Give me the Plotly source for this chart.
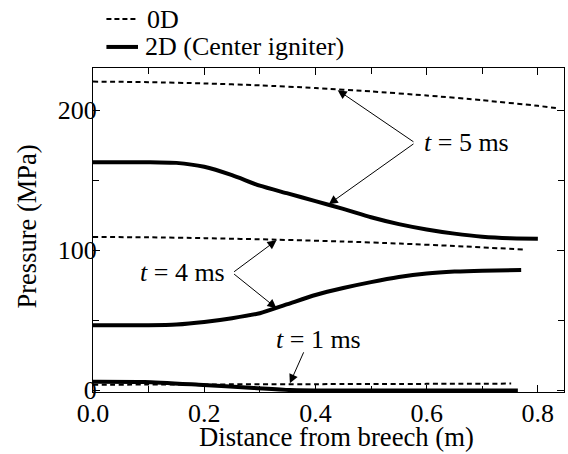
import plotly.graph_objects as go

# ---- data ----
x_0d_t5 = [0, 0.1, 0.2, 0.3, 0.4, 0.5, 0.6, 0.7, 0.8, 0.837]
p_0d_t5 = [220.3, 219.9, 219.0, 217.6, 215.7, 213.3, 210.4, 207.0, 203.0, 201.2]

x_2d_t5 = [0, 0.1, 0.15, 0.2, 0.25, 0.3, 0.35, 0.4, 0.45, 0.5, 0.55, 0.6, 0.65, 0.7, 0.75, 0.8]
p_2d_t5 = [162.8, 162.8, 162.3, 159.5, 153.5, 146.0, 140.5, 135.0, 129.5, 123.5, 118.6, 114.8, 111.8, 109.6, 108.5, 108.2]

x_0d_t4 = [0, 0.1, 0.2, 0.33, 0.45, 0.552, 0.65, 0.773]
p_0d_t4 = [109.4, 109.2, 108.6, 107.5, 106.2, 104.7, 103, 100.5]

x_2d_t4 = [0, 0.1, 0.15, 0.2, 0.25, 0.3, 0.35, 0.4, 0.45, 0.5, 0.55, 0.6, 0.65, 0.7, 0.77]
p_2d_t4 = [46.4, 46.5, 47.0, 48.8, 51.5, 55.0, 61.5, 68.0, 73.0, 77.2, 80.8, 83.3, 84.7, 85.4, 85.8]

x_0d_t1 = [0, 0.2, 0.4, 0.6, 0.752]
p_0d_t1 = [4.0, 4.2, 4.4, 4.6, 4.8]

x_2d_t1 = [0, 0.093, 0.19, 0.289, 0.354, 0.45, 0.764]
p_2d_t1 = [6.2, 6.0, 4.0, 1.7, 0.2, -0.2, -0.2]

legend_names = ["0D", "2D (Center igniter)"]
x_ticks = [0.0, 0.2, 0.4, 0.6, 0.8]
y_ticks = [0, 100, 200]
x_title = "Distance from breech (m)"
y_title = "Pressure (MPa)"

FONT = "Liberation Serif, Times New Roman, serif"
DASH = "5px,3.5px"

fig = go.Figure()

dash_line = dict(color="black", width=2, dash=DASH)
solid_line = dict(color="black", width=4)

series = [
    (x_0d_t5, p_0d_t5, dash_line, 0),
    (x_2d_t5, p_2d_t5, solid_line, 1),
    (x_0d_t4, p_0d_t4, dash_line, 0),
    (x_2d_t4, p_2d_t4, solid_line, 1),
    (x_0d_t1, p_0d_t1, dash_line, 0),
    (x_2d_t1, p_2d_t1, solid_line, 1),
]
for xs, ys, ln, k in series:
    fig.add_trace(go.Scatter(
        x=xs, y=ys, mode="lines", line=dict(**ln, shape="spline", smoothing=0.6),
        name=legend_names[k], legendgroup=legend_names[k], showlegend=False,
    ))

# legend drawn in paper coordinates above the plot area
legend_rows = [(legend_names[0], dict(width=2, dash="5px,3px"), 1.151, 0.1104),
               (legend_names[1], dict(width=4, dash="solid"), 1.065, 0.106)]
for name, ln, yp, xt in legend_rows:
    fig.add_shape(type="line", xref="paper", yref="paper", x0=0.0285, x1=0.0955, y0=yp, y1=yp,
                  line=dict(color="black", **ln))
    fig.add_annotation(xref="paper", yref="paper", x=xt, y=yp, text=name, showarrow=False,
                       xanchor="left", yanchor="middle",
                       font=dict(family=FONT, size=26, color="black"))

# axis titles
fig.add_annotation(xref="paper", yref="paper", x=0.5176, y=-0.1914, text=x_title,
                   showarrow=False, xanchor="center", yanchor="bottom",
                   font=dict(family=FONT, size=26.7, color="black"))
fig.add_annotation(xref="paper", yref="paper", x=-0.140, y=0.511, text=y_title,
                   showarrow=False, xanchor="center", yanchor="middle", textangle=-90,
                   font=dict(family=FONT, size=26.5, color="black"))

# annotation labels
labels = [
    ("<i>t</i> = 5 ms", 0.591, 176.6, "left"),
    ("<i>t</i> = 4 ms", 0.2405, 83.8, "right"),
    ("<i>t</i> = 1 ms", 0.406, 36.5, "center"),
]
for txt, lx, ly, anc in labels:
    fig.add_annotation(x=lx, y=ly, text=txt, showarrow=False, xanchor=anc,
                       yanchor="middle", font=dict(family=FONT, size=26, color="black"))

# arrows: (tail x, tail y, head x, head y)
arrows = [
    (0.579, 176.6, 0.44, 214.2),
    (0.579, 176.6, 0.424, 132.8),
    (0.251, 83.8, 0.330, 107.1),
    (0.251, 83.8, 0.330, 58.6),
    (0.380, 28.2, 0.354, 5.0),
]
for ax_, ay_, hx, hy in arrows:
    fig.add_annotation(x=hx, y=hy, ax=ax_, ay=ay_, axref="x", ayref="y",
                       xref="x", yref="y", text="", showarrow=True,
                       arrowhead=2, arrowsize=1.8, arrowwidth=1, arrowcolor="black",
                       standoff=0, startstandoff=0)

axis_common = dict(
    showline=True, linecolor="black", linewidth=1, mirror="ticks",
    ticks="inside", ticklen=7, tickwidth=1, tickcolor="black",
    showgrid=False, zeroline=False, automargin=False,
    tickfont=dict(family=FONT, size=26, color="black"),
)

fig.update_xaxes(
    range=[0, 0.847], tickvals=x_ticks, ticktext=[f"{v:.1f}" for v in x_ticks],
    minor=dict(dtick=0.1, ticks="inside", ticklen=6, tickcolor="black", showgrid=False),
    ticklabelstandoff=-2,
    **axis_common,
)
fig.update_yaxes(
    range=[-1.2, 230], tickvals=y_ticks, ticktext=[str(v) for v in y_ticks],
    minor=dict(dtick=50, ticks="inside", ticklen=6, tickcolor="black", showgrid=False),
    ticklabelstandoff=-10,
    **axis_common,
)

fig.update_layout(
    width=568, height=454,
    margin=dict(l=93, r=4, t=68, b=62),
    paper_bgcolor="white", plot_bgcolor="white",
    font=dict(family=FONT, size=26, color="black"),
    showlegend=False,
)

fig.write_html("out.html", config={"displayModeBar": False},
               post_script="document.body.style.margin='0';")
